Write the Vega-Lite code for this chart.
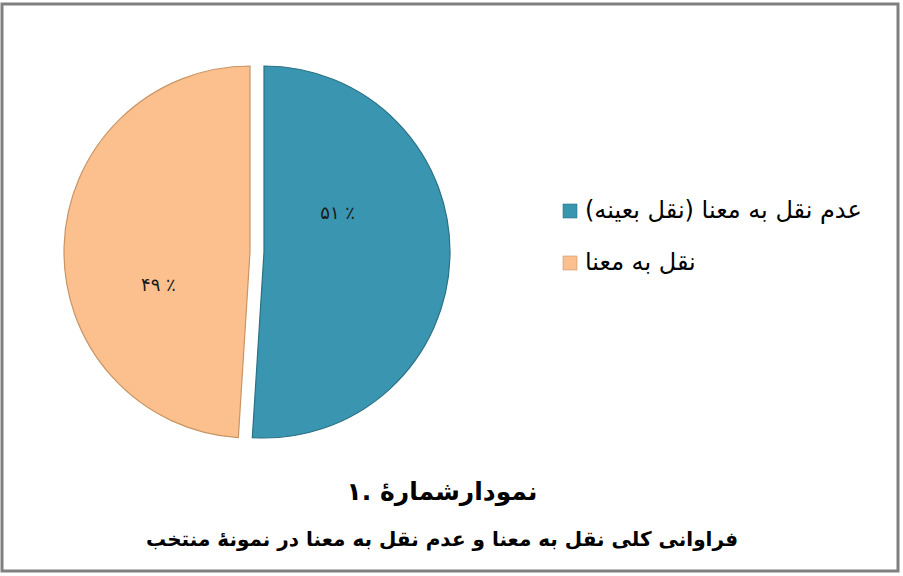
{
  "$schema": "https://vega.github.io/schema/vega-lite/v6.json",
  "width": 896,
  "height": 567,
  "autosize": "none",
  "padding": {"left": 2, "top": 4, "right": 5, "bottom": 5},
  "background": "white",
  "config": {
    "view": {"stroke": "#808080", "strokeWidth": 3},
    "font": "DejaVu Sans"
  },
  "title": {
    "text": "۱. نمودارشمارۀ",
    "subtitle": "فراوانی کلی نقل به معنا و عدم نقل به معنا در نمونۀ منتخب",
    "orient": "bottom",
    "anchor": "middle",
    "frame": "group",
    "offset": -91,
    "dx": -8,
    "fontSize": 25,
    "fontWeight": "bold",
    "color": "#000000",
    "font": "DejaVu Sans",
    "subtitleFontSize": 20,
    "subtitleFontWeight": "bold",
    "subtitleColor": "#000000",
    "subtitleFont": "DejaVu Sans",
    "subtitlePadding": 25
  },
  "data": {
    "values": [
      {"label": "عدم نقل به معنا (نقل بعینه)", "share": 51, "text": "۵۱ ٪"},
      {"label": "نقل به معنا", "share": 49, "text": "۴۹ ٪"}
    ]
  },
  "encoding": {
    "theta": {"field": "share", "type": "quantitative", "stack": true},
    "order": {"field": "label", "sort": "ascending"},
    "x": {
      "field": "label",
      "type": "nominal",
      "scale": {
        "type": "point",
        "padding": 0,
        "domain": ["نقل به معنا", "عدم نقل به معنا (نقل بعینه)"],
        "range": [248, 262]
      },
      "axis": null
    }
  },
  "layer": [
    {
      "mark": {"type": "arc", "outerRadius": 186, "y": 248, "strokeWidth": 1.2},
      "encoding": {
        "color": {
          "field": "label",
          "type": "nominal",
          "scale": {"domain": ["عدم نقل به معنا (نقل بعینه)", "نقل به معنا"], "range": ["#3a95b0", "#fcc08f"]},
          "legend": {
            "orient": "none",
            "legendX": 556,
            "legendY": 195,
            "title": null,
            "labelFontSize": 24,
            "labelFont": "DejaVu Sans",
            "labelColor": "#000000",
            "labelLimit": 400,
            "labelOffset": 3,
            "symbolType": "square",
            "symbolSize": 196,
            "symbolStrokeColor": "#4d4d4d",
            "symbolStrokeWidth": 0.6,
            "rowPadding": 28
          }
        },
        "stroke": {
          "field": "label",
          "type": "nominal",
          "scale": {"domain": ["عدم نقل به معنا (نقل بعینه)", "نقل به معنا"], "range": ["#2b7186", "#c89565"]},
          "legend": null
        }
      }
    },
    {
      "mark": {"type": "text", "radius": 90, "thetaOffset": -0.44, "y": 248, "dx": -9, "dy": -2, "fontSize": 18, "color": "#1a1a1a", "font": "DejaVu Sans"},
      "encoding": {
        "detail": {"field": "label", "type": "nominal"},
        "text": {"field": "text", "type": "nominal"}
      }
    }
  ]
}
